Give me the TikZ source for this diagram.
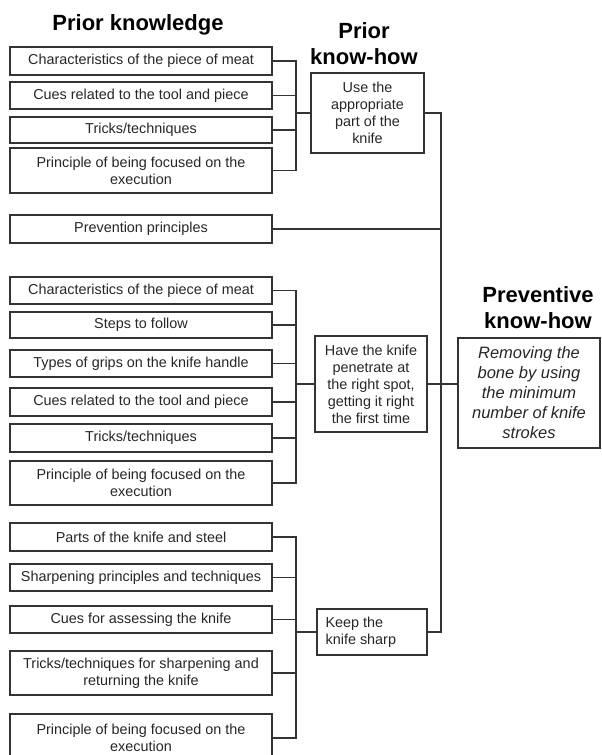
\documentclass[tikz,border=0pt]{standalone}
\usepackage{fontspec}
\setmainfont{Liberation Sans}
\usetikzlibrary{fit,positioning,calc}

\tikzset{
  box/.style={inner sep=0pt,draw=black!80,line width=1.2pt},
  txt/.style={inner sep=0pt,align=center,font=\fontsize{14.4}{17}\selectfont,text=black!85},
  heading/.style={font=\fontsize{22}{26}\selectfont\bfseries,align=center},
  wire/.style={draw=black!80,line width=1.2pt}
}

\begin{document}
\begin{tikzpicture}[x=1pt,y=-1pt]
  \useasboundingbox (0,0) rectangle (602,755);

  \node[heading] (tpk) at (138,25) {Prior knowledge};
  \node[heading] (tkh) at (364,44) {Prior\\know-how};
  \node[heading] (tpv) at (538,308) {Preventive\\know-how};

  \node[fit={(10,47) (272,75)},box] (pk1) {}; \node[txt] (pk1t) at
  (pk1.center) {Characteristics of the piece of meat};
  \node[fit={(10,82) (272,109)},box] (pk2) {}; \node[txt] (pk2t) at
  (pk2.center) {Cues related to the tool and piece};
  \node[fit={(10,117) (272,143)},box] (pk3) {}; \node[txt] (pk3t) at
  (pk3.center) {Tricks/techniques};
  \node[fit={(10,148) (272,193)},box] (pk4) {}; \node[txt] (pk4t) at
  (pk4.center) {Principle of being focused on the\\execution};
  \node[fit={(10,215) (272,243)},box] (prev) {}; \node[txt] (prevt) at
  (prev.center) {Prevention principles};

  \node[fit={(10,277) (272,304)},box] (pm1) {}; \node[txt] (pm1t) at
  (pm1.center) {Characteristics of the piece of meat};
  \node[fit={(10,312) (272,338)},box] (pm2) {}; \node[txt] (pm2t) at
  (pm2.center) {Steps to follow};
  \node[fit={(10,350) (272,377)},box] (pm3) {}; \node[txt] (pm3t) at
  (pm3.center) {Types of grips on the knife handle};
  \node[fit={(10,388) (272,416)},box] (pm4) {}; \node[txt] (pm4t) at
  (pm4.center) {Cues related to the tool and piece};
  \node[fit={(10,424) (272,452)},box] (pm5) {}; \node[txt] (pm5t) at
  (pm5.center) {Tricks/techniques};
  \node[fit={(10,461) (272,505)},box] (pm6) {}; \node[txt] (pm6t) at
  (pm6.center) {Principle of being focused on the\\execution};

  \node[fit={(10,523) (272,551)},box] (ps1) {}; \node[txt] (ps1t) at
  (ps1.center) {Parts of the knife and steel};
  \node[fit={(10,564) (272,591)},box] (ps2) {}; \node[txt] (ps2t) at
  (ps2.center) {Sharpening principles and techniques};
  \node[fit={(10,606) (272,633)},box] (ps3) {}; \node[txt] (ps3t) at
  (ps3.center) {Cues for assessing the knife};
  \node[fit={(10,651) (272,695)},box] (ps4) {}; \node[txt] (ps4t) at
  (ps4.center) {Tricks/techniques for sharpening and\\returning the knife};
  \node[fit={(10,714) (272,762)},box] (ps5) {}; \node[txt] (ps5t) at
  (ps5.center) {Principle of being focused on the\\execution};

  \node[fit={(311,73) (424,153)},box] (kh1) {}; \node[txt] (kh1t) at
  (kh1.center) {Use the\\appropriate\\part of the\\knife};
  \node[fit={(315,336) (427,432)},box] (kh2) {}; \node[txt] (kh2t) at
  (kh2.center) {Have the knife\\penetrate at\\the right spot,\\getting it right\\the first time};
  \node[fit={(317,609) (427,655)},box] (kh3) {}; \node[txt,align=left,anchor=west]
  (kh3t) at ([xshift=9pt]kh3.west) {Keep the\\knife sharp};

  \node[fit={(458,338) (600,448)},box] (pv) {}; \node[txt,font=\fontsize{16.5}{20}\selectfont\itshape]
  (pvt) at (pv.center) {Removing the\\bone by using\\the minimum\\number of knife\\strokes};

  \coordinate (rail) at (296,0);
  \coordinate (spine) at (441,0);

  \foreach \i in {1,...,4} \draw[wire] (pk\i.east) -| (kh1.west -| rail);
  \draw[wire] (kh1.west -| rail) -- (kh1.west);
  \foreach \i in {1,...,6} \draw[wire] (pm\i.east) -| (kh2.west -| rail);
  \draw[wire] (kh2.west -| rail) -- (kh2.west);
  \foreach \i in {1,...,5} \draw[wire] (ps\i.east) -| (kh3.west -| rail);
  \draw[wire] (kh3.west -| rail) -- (kh3.west);

  \draw[wire] (kh1.east) -| (kh3.east -| spine) -- (kh3.east);
  \draw[wire] (prev.east) -- (prev.east -| spine);
  \draw[wire] (kh2.east) -- (kh2.east -| pv.west);
\end{tikzpicture}
\end{document}
